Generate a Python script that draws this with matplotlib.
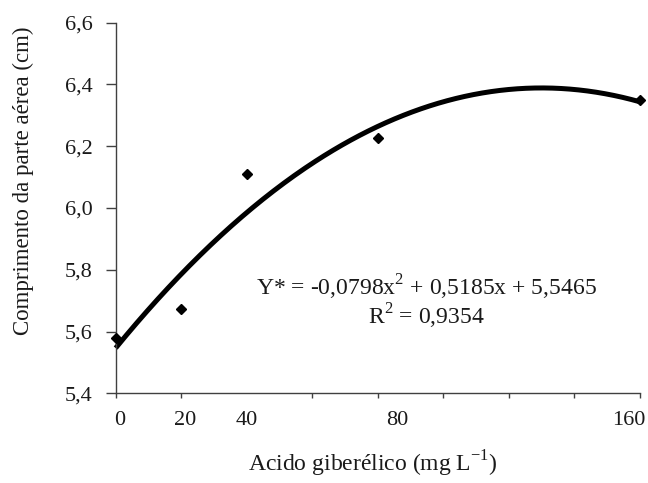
import numpy as np
import matplotlib
matplotlib.use("Agg")
import matplotlib.pyplot as plt
from matplotlib.ticker import FixedLocator, FixedFormatter, MultipleLocator

# Data
doses = [0, 20, 40, 80, 160]
lengths = [5.58, 5.672, 6.11, 6.227, 6.35]
coef_a, coef_b, coef_c = -0.0798, 0.5185, 5.5465  # x = dose / 40
x_tick_labels = ["0", "20", "40", "80", "160"]
x_label_positions = [1.3, 21.1, 40, 85.8, 156.6]
y_ticks = [5.4, 5.6, 5.8, 6.0, 6.2, 6.4, 6.6]

plt.rcParams['font.family'] = ['Liberation Serif', 'DejaVu Serif']

fig = plt.figure(figsize=(6.48, 4.83), dpi=100)
ax = fig.add_axes([0.1785, 0.1857, 0.9877 - 0.1785, 0.953 - 0.1857])

xx = np.linspace(0, 160, 300)
u = xx / 40.0
yy = coef_a * u**2 + coef_b * u + coef_c
ax.plot(xx, yy, color='black', lw=3.6, solid_capstyle='butt', zorder=2, clip_on=False)
ax.plot(doses, lengths, linestyle='none', marker='D', color='black', ms=5.5, zorder=3, clip_on=False)

ax.set_xlim(0, 160)
ax.set_ylim(5.4, 6.6)

axis_color = '#404040'
text_color = '#1a1a1a'
for s in ['top', 'right']:
    ax.spines[s].set_visible(False)
for s in ['left', 'bottom']:
    ax.spines[s].set_color(axis_color)
    ax.spines[s].set_linewidth(1.0)

ax.set_yticks(y_ticks)
ax.set_yticklabels([f"{v:.1f}".replace('.', ',') for v in y_ticks])
ax.tick_params(axis='y', length=7.5, width=1.0, color=axis_color, labelsize=16,
               labelcolor=text_color, pad=9, direction='out')

# x: tick marks every 20 (minor), labels at measured positions (major, no marks)
ax.xaxis.set_minor_locator(MultipleLocator(20))
ax.xaxis.set_major_locator(FixedLocator(x_label_positions))
ax.xaxis.set_major_formatter(FixedFormatter(x_tick_labels))
ax.tick_params(axis='x', which='major', length=0, labelsize=16, labelcolor=text_color, pad=13)
ax.tick_params(axis='x', which='minor', length=3.6, width=1.0, color=axis_color, direction='out')

ax.set_xlabel("Acido giberélico (mg L$^{\\mathregular{-1}}$)", fontsize=17, color=text_color)
ax.xaxis.set_label_coords(0.49, -0.15)
ax.set_ylabel("Comprimento da parte aérea (cm)", fontsize=16.5, color=text_color)
ax.yaxis.set_label_coords(-0.155, 0.573)

ax.text(0.592, 0.246, "Y* = -0,0798x$^{\\mathregular{2}}$ + 0,5185x + 5,5465\nR$^{\\mathregular{2}}$ = 0,9354",
        transform=ax.transAxes, ha='center', va='center', fontsize=17, color=text_color,
        linespacing=1.0, multialignment='center')

fig.savefig("out.png", dpi=100)
